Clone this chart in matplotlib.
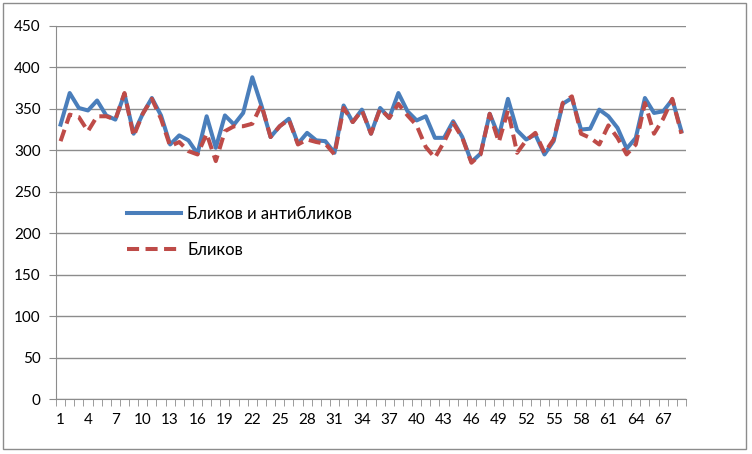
import numpy as np
import matplotlib
matplotlib.use("Agg")
import matplotlib.pyplot as plt
from matplotlib.patches import Rectangle

plt.rcParams['font.family'] = ['Lato', 'DejaVu Sans']

# data
categories = list(range(1, 70))
tick_labels = list(range(1, 70, 3))

glare_and_antiglare = [
    331, 369, 351, 348, 360, 342, 337, 368, 320, 344,
    363, 342, 307, 318, 312, 296, 341, 303, 342, 331,
    345, 388, 354, 316, 329, 338, 308, 321, 312, 311,
    297, 354, 334, 349, 320, 351, 339, 369, 347, 336,
    341, 315, 315, 335, 316, 286, 296, 344, 317, 362,
    324, 313, 319, 295, 311, 356, 363, 325, 326, 349,
    341, 327, 302, 315, 363, 345, 347, 361, 323,
]
glare_only = [
    311, 343, 340, 323, 341, 341, 337, 369, 317, 344,
    362, 338, 305, 310, 299, 295, 320, 287, 323, 329,
    329, 332, 355, 316, 329, 337, 307, 313, 310, 308,
    295, 351, 334, 348, 320, 350, 339, 356, 342, 330,
    304, 291, 310, 333, 315, 285, 295, 344, 310, 348,
    297, 312, 321, 297, 313, 357, 365, 320, 315, 307,
    330, 315, 295, 307, 357, 320, 338, 362, 320,
]
series_labels = ["Бликов и антибликов", "Бликов"]


def plot_chart(out="out.png"):
    """
    Excel-style line chart with two series
    """
    fig = plt.figure(figsize=(7.52, 4.54), dpi=100)
    ax = fig.add_axes([56 / 752, 1 - 399.3 / 454, 630 / 752, 373.5 / 454])

    # outer chart frame
    fig.patches.append(Rectangle((3 / 752, 5 / 454), 743 / 752, 446 / 454,
                                 transform=fig.transFigure, fill=False,
                                 edgecolor="#8c8c8c", linewidth=1.0))

    ax.plot(categories, glare_and_antiglare, color="#4a7ebb", linewidth=2.9,
            solid_joinstyle="round", label=series_labels[0], zorder=3)
    ax.plot(categories, glare_only, color="#be4b48", linewidth=2.9,
            linestyle=(0, (3.0, 1.6)), label=series_labels[1], zorder=4)

    ax.set_xlim(0.5, 69.5)
    ax.set_ylim(0, 450)
    ax.set_yticks(np.arange(0, 451, 50))
    ax.set_xticks(tick_labels)
    ax.set_xticks(np.arange(0.5, 70, 1), minor=True)
    ax.tick_params(axis="x", which="major", length=0, pad=10, labelsize=11)
    ax.tick_params(axis="x", which="minor", length=5, color="#8c8c8c", direction="out")
    ax.tick_params(axis="y", length=5, color="#8c8c8c", labelsize=11, pad=6)

    ax.grid(axis="y", color="#8c8c8c", linewidth=1.0)
    ax.set_axisbelow(True)
    for side in ["top", "right"]:
        ax.spines[side].set_visible(False)
    for side in ["left", "bottom"]:
        ax.spines[side].set_color("#8c8c8c")

    ax.legend(loc="center left", bbox_to_anchor=(0.113, 0.449), frameon=False,
              borderpad=0, borderaxespad=0, handlelength=3.2, handletextpad=0.4,
              labelspacing=1.2, fontsize=12)

    fig.savefig(out, dpi=100)


if __name__ == "__main__":
    plot_chart()
